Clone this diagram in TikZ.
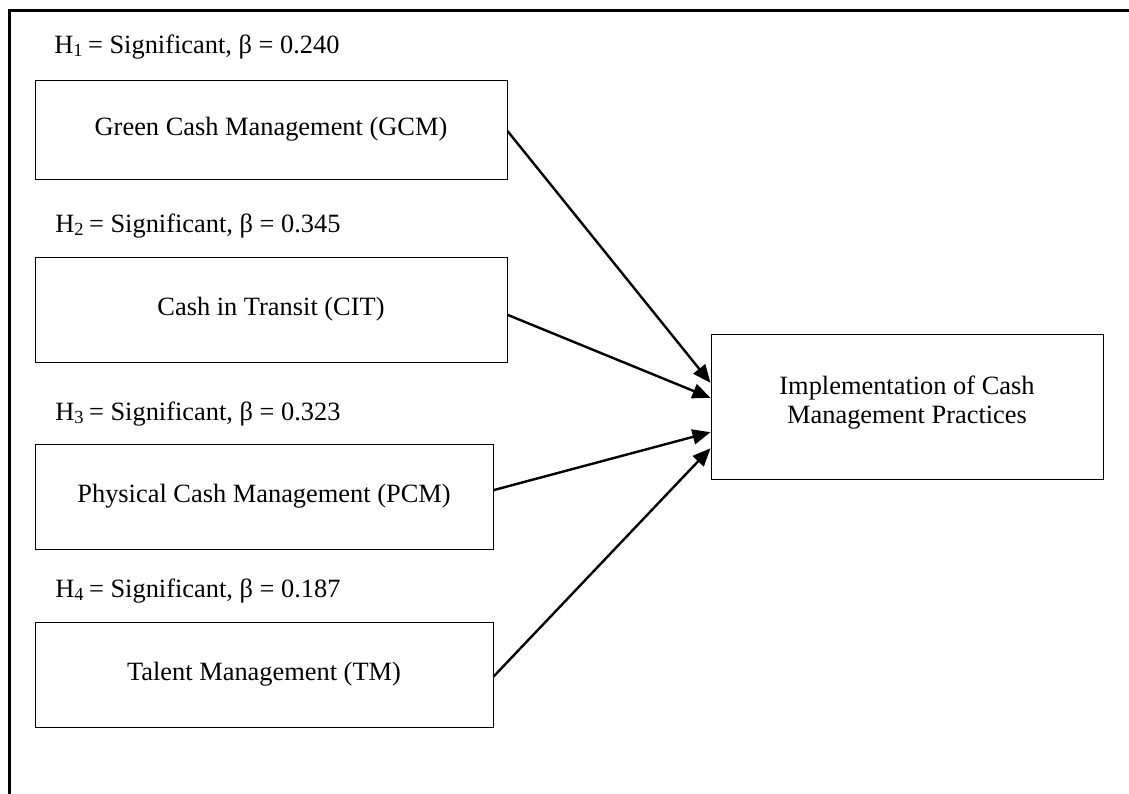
\documentclass[tikz,border=0pt]{standalone}
\usepackage{fontspec}
\setmainfont{Liberation Serif}
\usetikzlibrary{arrows.meta,calc}
\begin{document}
\begin{tikzpicture}[x=0.5pt,y=-0.5pt,
  every node/.style={font=\fontsize{13.2}{14.5}\selectfont},
  varbox/.style={draw=black,line width=0.5pt,rectangle,inner sep=0pt,align=center},
  hlabel/.style={anchor=base west,inner sep=0pt},
  frameline/.style={line width=1.5pt,line cap=rect},
  link/.style={line width=1.2pt,-{Triangle[length=9pt,width=7.5pt]}}]
\useasboundingbox (0,0) rectangle (1129,793);
% frame (only top and left edges visible)
\coordinate (ftl) at (9,10);
\coordinate (ftr) at (1129,10);
\coordinate (fbl) at (9,793);
\draw[frameline] (fbl) -- (ftl) -- (ftr);
% labels
\node[hlabel] (h1) at (54,53) {H\textsubscript{1}\,= Significant, β = 0.240};
\node[hlabel] (h2) at (55,232) {H\textsubscript{2}\,= Significant, β = 0.345};
\node[hlabel] (h3) at (55,420) {H\textsubscript{3}\,= Significant, β = 0.323};
\node[hlabel] (h4) at (55,597) {H\textsubscript{4}\,= Significant, β = 0.187};
% boxes
\node[varbox,minimum width=236pt,minimum height=49.5pt] (gcm) at (271,129.5) {Green Cash Management (GCM)};
\node[varbox,minimum width=236pt,minimum height=52.5pt] (cit) at (271,309.5) {Cash in Transit (CIT)};
\node[varbox,minimum width=229pt,minimum height=52.5pt] (pcm) at (264,496.5) {Physical Cash Management (PCM)};
\node[varbox,minimum width=229pt,minimum height=52.5pt] (tm) at (264,674.5) {Talent Management (TM)};
\node[varbox,minimum width=196pt,minimum height=72.5pt,text depth=7pt] (imp) at (907,406.5) {Implementation of Cash\\Management Practices};
% arrow end points
\coordinate (s1) at ($(gcm.north east)!0.515!(gcm.south east)$);
\coordinate (s2) at ($(cit.north east)!0.55!(cit.south east)$);
\coordinate (s3) at ($(pcm.north east)!0.44!(pcm.south east)$);
\coordinate (s4) at ($(tm.north east)!0.52!(tm.south east)$);
\coordinate (t1) at ($(imp.north west)!0.338!(imp.south west)$);
\coordinate (t2) at ($(imp.north west)!0.441!(imp.south west)$);
\coordinate (t3) at ($(imp.north west)!0.676!(imp.south west)$);
\coordinate (t4) at ($(imp.north west)!0.786!(imp.south west)$);
\draw[link] (s1) -- (t1);
\draw[link] (s2) -- (t2);
\draw[link] (s3) -- (t3);
\draw[link] (s4) -- (t4);
\end{tikzpicture}
\end{document}
